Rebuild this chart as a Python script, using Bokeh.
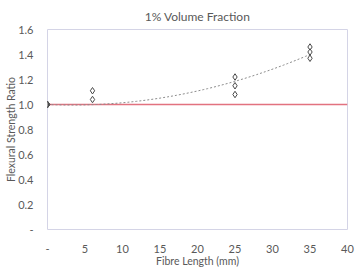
import numpy as np
from bokeh.plotting import figure
from bokeh.models import FixedTicker, Range1d
from bokeh.embed import file_html
from bokeh.resources import INLINE

# Fibre length (mm) and measured flexural strength ratios
fibre_length = [0, 0, 0, 6, 6, 25, 25, 25, 35, 35, 35]
strength_ratio = [1.0, 1.0, 1.0, 1.11, 1.04, 1.22, 1.15, 1.08, 1.46, 1.42, 1.37]

x_ticks = [0, 5, 10, 15, 20, 25, 30, 35, 40]
x_tick_labels = ["-", "5", "10", "15", "20", "25", "30", "35", "40"]
y_ticks = [0, 0.2, 0.4, 0.6, 0.8, 1.0, 1.2, 1.4, 1.6]
y_tick_labels = ["-", "0.2", "0.4", "0.6", "0.8", "1.0", "1.2", "1.4", "1.6"]

reference_ratio = 1.0

FONT = "Lato"
TEXT = "#595959"

p = figure(width=356, height=269, output_backend="svg", toolbar_location=None,
           x_range=Range1d(0, 40), y_range=Range1d(0, 1.6),
           title="1% Volume Fraction")
p.min_border_left = 47
p.min_border_right = 9
p.min_border_top = 0
p.min_border_bottom = 35

p.title.align = "center"
p.title.text_font = FONT
p.title.text_font_size = "12px"
p.title.text_font_style = "normal"
p.title.text_color = TEXT
p.title.offset = -10
p.title.standoff = 12

p.outline_line_color = "#d4d4e6"
p.outline_line_width = 1
p.xgrid.visible = False
p.ygrid.visible = False
p.background_fill_color = "white"
p.border_fill_color = "white"

for ax in (p.xaxis[0], p.yaxis[0]):
    ax.axis_line_color = None
    ax.major_tick_line_color = None
    ax.minor_tick_line_color = None
    ax.major_label_text_font = FONT
    ax.major_label_text_font_size = "11px"
    ax.major_label_text_color = TEXT
    ax.axis_label_text_font = FONT
    ax.axis_label_text_font_size = "10.5px"
    ax.axis_label_text_font_style = "normal"
    ax.axis_label_text_color = TEXT

p.xaxis.ticker = FixedTicker(ticks=x_ticks)
p.xaxis.major_label_overrides = {t: s for t, s in zip(x_ticks, x_tick_labels)}
p.xaxis.axis_label = "Fibre Length (mm)"
p.xaxis.major_label_standoff = 9
p.xaxis.axis_label_standoff = -1

p.yaxis.ticker = FixedTicker(ticks=y_ticks)
p.yaxis.major_label_overrides = {t: s for t, s in zip(y_ticks, y_tick_labels)}
p.yaxis.axis_label = "Flexural Strength Ratio"
p.yaxis.major_label_standoff = 8
p.yaxis.axis_label_standoff = -2

# reference line at ratio 1.0
p.line([0, 40], [reference_ratio, reference_ratio], line_color="#e2727f", line_width=1.5)

# quadratic trend line anchored at the reference ratio at zero length
fx = np.array(fibre_length, dtype=float)
fy = np.array(strength_ratio) - reference_ratio
A = np.column_stack([fx, fx ** 2])
a, b = np.linalg.lstsq(A, fy, rcond=None)[0]
xs = np.linspace(0, 35, 60)
p.line(xs, reference_ratio + a * xs + b * xs ** 2,
       line_color="#8c8c8c", line_width=1, line_dash="2 2")

p.scatter(fibre_length, strength_ratio, marker="diamond", size=6.5,
          fill_color="white", line_color="#4a4a4a", line_width=1)
p.scatter([0], [1.0], marker="diamond", size=6, fill_color="#4a4a4a", line_color="#4a4a4a")

open("out.html", "w").write(file_html(p, INLINE))
